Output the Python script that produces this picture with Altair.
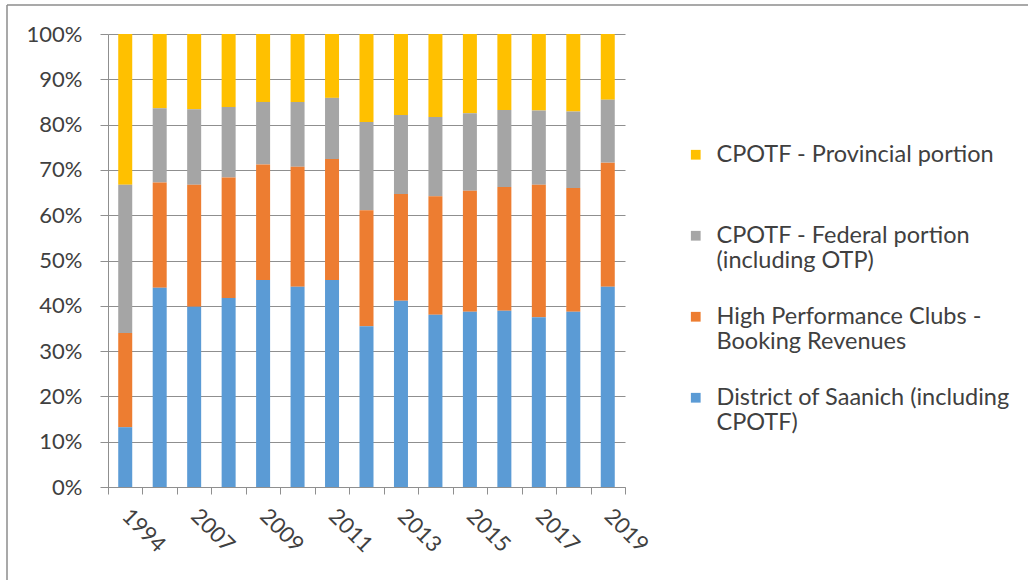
import json
import altair as alt
import pandas as pd

years = ["1994", "2006", "2007", "2008", "2009", "2010", "2011", "2012",
         "2013", "2014", "2015", "2016", "2017", "2018", "2019"]
shown_years = ["1994", "2007", "2009", "2011", "2013", "2015", "2017", "2019"]

series = [
    "CPOTF - Provincial portion",
    "CPOTF - Federal portion (including OTP)",
    "High Performance Clubs - Booking Revenues",
    "District of Saanich (including CPOTF)",
]
legend_lines = [
    ["CPOTF - Provincial portion", ""],
    ["CPOTF - Federal portion", "(including OTP)"],
    ["High Performance Clubs -", "Booking Revenues"],
    ["District of Saanich (including", "CPOTF)"],
]
colors = ["#FFC000", "#A5A5A5", "#ED7D31", "#5B9BD5"]
stack_rank = [3, 2, 1, 0]

provincial = [33.3, 16.4, 16.6, 16.1, 15.0, 15.0, 14.1, 19.4, 17.9, 18.3, 17.5, 16.8, 16.9, 17.1, 14.5]
federal    = [32.7, 16.4, 16.7, 15.6, 13.8, 14.3, 13.5, 19.5, 17.4, 17.5, 17.1, 17.0, 16.4, 16.9, 13.9]
clubs      = [20.8, 23.2, 26.9, 26.6, 25.5, 26.5, 26.7, 25.6, 23.6, 26.2, 26.7, 27.3, 29.2, 27.3, 27.4]
saanich    = [13.2, 44.0, 39.8, 41.7, 45.7, 44.2, 45.7, 35.5, 41.1, 38.0, 38.7, 38.9, 37.5, 38.7, 44.2]

values_by_series = [provincial, federal, clubs, saanich]
rows = []
for s, vals, rk in zip(series, values_by_series, stack_rank):
    for y, v in zip(years, vals):
        rows.append({"year": y, "series": s, "value": v, "rank": rk})
df = pd.DataFrame(rows)

FONT = "Lato"
TXT = "#404040"
GRID = "#8f8f8f"

legend_expr = ""
for s, lines in zip(series, legend_lines):
    legend_expr += f"datum.label == {json.dumps(s)} ? {json.dumps(lines)} : "
legend_expr += "datum.label"

x_label_expr = f"indexof({json.dumps(shown_years)}, datum.label) >= 0 ? datum.label : ''"

bars = alt.Chart(df).mark_bar(size=14).encode(
    x=alt.X("year:N", sort=years,
            scale=alt.Scale(paddingInner=0, paddingOuter=0),
            axis=alt.Axis(title=None, labelAngle=45, labelAlign="left",
                          labelBaseline="middle", labelPadding=18,
                          labelExpr=x_label_expr, tickBand="extent",
                          tickSize=7, tickColor=GRID, domainColor=GRID,
                          labelFont=FONT, labelFontSize=22, labelColor=TXT,
                          grid=False)),
    y=alt.Y("value:Q", stack="normalize",
            scale=alt.Scale(domain=[0, 1], nice=False),
            axis=alt.Axis(title=None, format=".0%",
                          values=[i / 10 for i in range(11)],
                          tickSize=8, tickColor=GRID, domainColor=GRID,
                          gridColor=GRID, labelPadding=18,
                          labelFont=FONT, labelFontSize=22, labelColor=TXT)),
    color=alt.Color("series:N",
                    scale=alt.Scale(domain=series, range=colors),
                    legend=alt.Legend(title=None, orient="none",
                                      legendX=576, legendY=109,
                                      symbolType="square", symbolSize=95,
                                      symbolStrokeWidth=0,
                                      labelFont=FONT, labelFontSize=23.5,
                                      labelColor=TXT, labelLimit=420,
                                      labelExpr=legend_expr,
                                      labelBaseline="middle",
                                      rowPadding=31, labelOffset=9)),
    order=alt.Order("rank:Q", sort="ascending"),
)

frame_df = pd.DataFrame({"k": [0]})
left_border = alt.Chart(frame_df).mark_rule(color="#8c8c8c", strokeWidth=1.5).encode(
    x=alt.value(-101), y=alt.value(-29), y2=alt.value(546))
top_border = alt.Chart(frame_df).mark_rule(color="#8c8c8c", strokeWidth=1.5).encode(
    x=alt.value(-101), x2=alt.value(920), y=alt.value(-29))

chart = alt.layer(bars, left_border, top_border).properties(
    width=517, height=453,
    autosize=alt.AutoSizeParams(type="none"),
    padding={"left": 108, "top": 34, "right": 403, "bottom": 93},
    background="white",
).configure_view(stroke=None)

chart.save("out.html", embed_options={"renderer": "svg", "actions": False})
